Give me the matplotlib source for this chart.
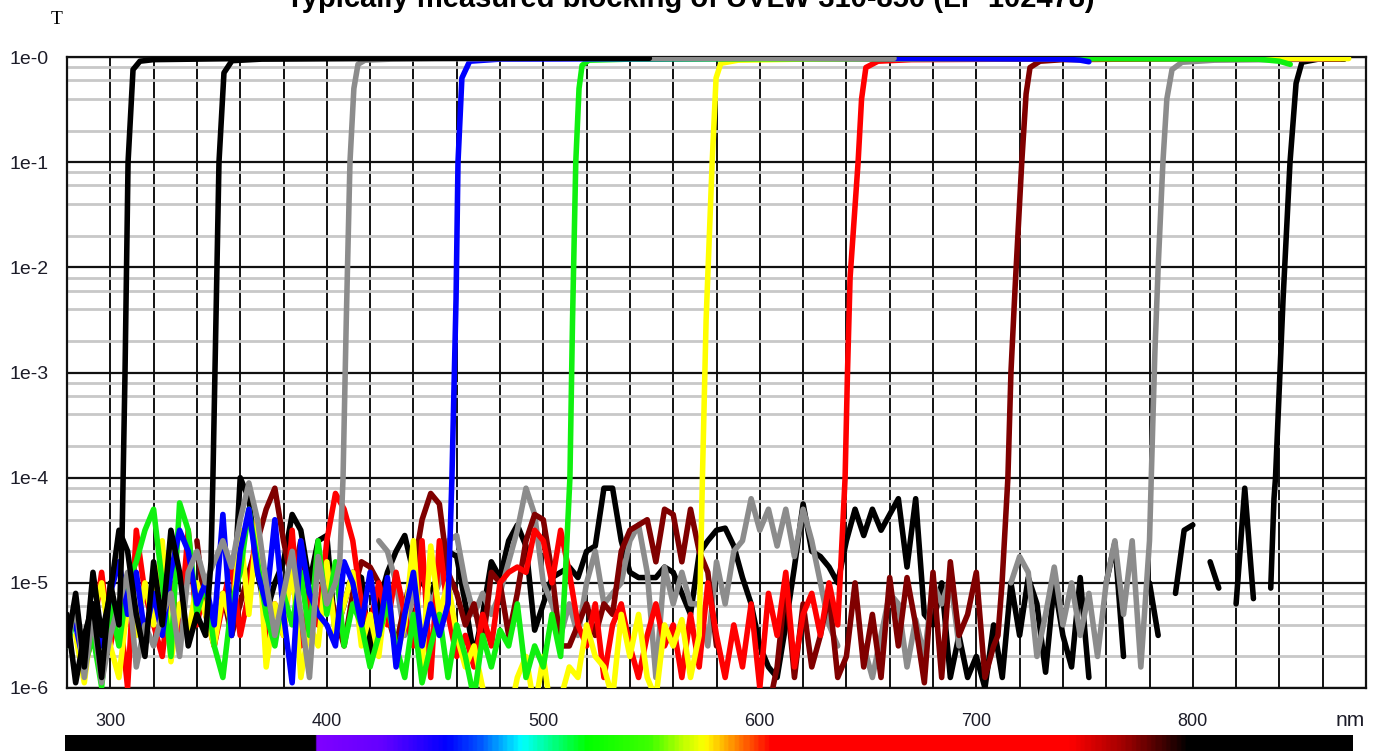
import numpy as np
import matplotlib.pyplot as plt
from matplotlib.colors import LinearSegmentedColormap

plt.rcParams['font.family'] = ['Liberation Sans', 'DejaVu Sans']

title = "Typically measured blocking of UVLW 310-850 (LP 102478)"

# noise floor sampled every 4 nm (log10 T), edge + plateau points after that
step = 4

blk1_start = 280
blk1_noise = [-5.3, -5.95, -5.5, -5.2, -5.9, -5.0, -5.4]
blk1_edge_wl = [305.4, 306.8, 308.2, 310.5, 313.7, 320, 360, 420, 466]
blk1_edge_lg = [-4.6, -3.0, -1.0, -0.12, -0.04, -0.025, -0.015, -0.01, -0.012]

blk2_start = 280
blk2_noise = [-5.6, -5.1, -5.8, -4.9, -5.5, -5.1, -4.5, -4.7, -5.3, -5.7, -4.8, -5.4,
              -4.5, -4.9, -5.6, -5.3, -5.5]
blk2_edge_wl = [346.5, 347.4, 348.8, 350.2, 352.5, 356.2, 370, 450, 549]
blk2_edge_lg = [-4.8, -4.0, -2.5, -1.0, -0.15, -0.035, -0.02, -0.012, -0.012]

gry1_start = 280
gry1_noise = [-5.6, -5.2, -5.9, -5.3, -5.95, -5.5, -5.2, -4.9, -5.8, -5.4, -5.6, -5.3,
              -5.1, -5.7, -4.9, -4.7, -5.0, -4.8, -4.6, -4.85, -4.4, -4.05, -4.4, -5.0,
              -5.5, -5.1, -4.7, -5.3, -5.9, -4.75, -5.2, -5.0]
gry1_edge_wl = [406, 407.5, 409, 410.7, 412.5, 414.4, 417.6, 430, 500, 662]
gry1_edge_lg = [-4.8, -4.0, -2.5, -1.0, -0.3, -0.07, -0.03, -0.02, -0.012, -0.012]

blue_start = 284
blue_noise = [-5.4, -5.8, -5.2, -5.6, -5.1, -4.8, -5.3, -4.9, -5.5, -5.1,
              -5.5, -4.9, -4.5, -4.7, -5.2, -5.0, -5.4, -4.35, -5.5, -4.7,
              -4.3, -4.9, -5.2, -4.4, -5.3, -5.95, -4.6, -5.1, -5.3, -5.4,
              -5.6, -4.8, -5.0, -5.4, -4.9, -5.5, -4.95, -5.8, -5.3, -4.9,
              -5.6, -5.2, -5.5, -5.2]
blue_edge_wl = [457.8, 459.7, 460.6, 462.4, 466, 480, 600, 740, 748, 752]
blue_edge_lg = [-4.0, -2.3, -1.0, -0.2, -0.04, -0.02, -0.012, -0.02, -0.03, -0.045]

grn_start = 280
grn_noise = [-5.6, -5.3, -5.8, -5.5, -5.99, -5.2, -5.6, -5.0, -4.8, -4.5,
             -4.3, -5.0, -5.7, -4.24, -4.5, -5.3, -5.0, -5.6, -5.9, -5.2,
             -4.9, -4.3, -4.8, -5.3, -5.6, -5.1, -5.4, -4.9, -5.5, -4.6,
             -5.3, -4.8, -5.6, -5.2, -5.4, -5.8, -5.5, -5.2, -5.6, -5.9,
             -5.3, -5.95, -5.6, -5.3, -5.9, -5.4, -5.7, -6.1, -5.5, -5.8,
             -5.45, -5.6, -5.2, -5.9, -5.6, -5.8, -5.3, -5.7]
grn_edge_wl = [510, 512.3, 513.5, 515, 516.5, 517.9, 521, 540, 700, 830, 840, 845]
grn_edge_lg = [-5.0, -4.0, -2.5, -1.0, -0.3, -0.08, -0.03, -0.02, -0.012, -0.02, -0.04, -0.07]

yel_start = 284
yel_noise = [-5.5, -5.95, -5.3, -5.0, -5.6, -5.9, -5.2, -5.5, -5.0, -5.4,
             -4.6, -5.75, -5.2, -5.5, -5.0, -5.3, -5.6, -5.1, -5.4, -4.5,
             -5.3, -4.4, -5.8, -5.2, -5.5, -4.8, -5.9, -5.4, -5.6, -4.8,
             -5.5, -5.2, -4.9, -5.6, -5.3, -5.7, -5.0, -5.7, -5.4, -4.6,
             -5.8, -4.65, -5.3, -5.0, -5.5, -5.8, -5.6, -6.0, np.nan, np.nan,
             -6.3, -5.9, -5.7, -6.2, -5.7, -6.3, -6.1, -5.8, -5.9, -5.4,
             -5.7, -5.8, -6.1, -5.3, -5.7, -5.3, -5.9, -6.1, -5.4, -5.6,
             -5.35, -5.9, -5.5]
yel_edge_wl = [573.5, 575.2, 578, 579.8, 582, 590, 620, 800, 872]
yel_edge_lg = [-4.0, -2.5, -1.0, -0.2, -0.06, -0.03, -0.02, -0.012, -0.015]

red_start = 280
red_noise = [-5.5, -5.3, -5.8, -5.5, -4.9, -5.6, -5.2, -6.0, -4.5, -5.1,
             -5.4, -5.7, -5.0, -5.5, -4.5, -5.4, -5.0, -5.6, -5.2, -4.8,
             -5.5, -5.1, -4.4, -5.6, -5.2, -5.5, -4.5, -5.6, -5.1, -5.4,
             -4.6, -4.15, -4.3, -4.6, -5.2, -5.4, -5.0, -5.4, -4.9, -5.3,
             -5.6, -4.6, -5.9, -4.6, -5.3, -5.7, -5.5, -5.8, -5.3, -5.6,
             -5.0, -4.9, -4.85, -4.9, -4.5, -4.6, -5.0, -4.5, -4.9, -5.4,
             -5.6, -5.2, -5.9, -5.4, -5.2, -5.6, -5.9, -5.5, -5.2, -5.6,
             -5.4, -5.9, -5.3, -5.8, -5.0, -5.5, -5.9, -5.4, -5.8, -5.2,
             -6.0, -5.1, -5.5, -4.9, -5.8, -5.3, -5.1, -5.5, -5.0, -5.4]
red_edge_wl = [637.5, 639.4, 640.5, 641.7, 645.4, 647, 649, 654.6, 670, 800, 868]
red_edge_lg = [-4.8, -4.0, -3.0, -2.1, -1.0, -0.4, -0.1, -0.04, -0.025, -0.012, -0.015]

dred_start = 340
dred_noise = [-4.6, -5.3, -5.6, -5.1, -5.5, -5.2, -4.9, -4.6, -4.3, -4.1,
              -4.6, -5.0, -4.6, -5.2, -5.4, -5.0, -5.3, -5.6, -5.1, -4.8,
              -4.85, -5.0, -5.3, -5.6, -5.2, -4.9, -4.4, -4.15, -4.25, -4.9,
              -5.1, -5.4, -5.2, -5.6, -4.9, -5.0, -5.5, -5.1, -4.6, -4.35,
              -4.4, -4.9, -5.6, -5.6, -5.4, -5.2, -5.5, -5.2, -5.3, -4.7,
              -4.5, -4.45, -4.4, -4.8, -4.3, -4.35, -4.8, -4.3, -4.7, -4.9,
              -5.6, np.nan, np.nan, np.nan, np.nan, np.nan, -6.2, -5.8, -5.0, -5.9,
              -5.2, -5.8, -5.5, -5.1, -5.9, -5.7, -5.0, -5.8, -5.3, -5.9,
              -4.95, -5.6, -4.95, -5.4, -5.95, -4.9, -5.9, -4.8, -5.5, -5.3,
              -4.9, -5.9, -5.6]
dred_edge_wl = [710, 711.9, 714.6, 716, 717.9, 721, 723, 724.8, 729.4, 740, 800, 870]
dred_edge_lg = [-5.5, -5.0, -4.0, -3.0, -2.2, -1.0, -0.35, -0.1, -0.04, -0.025, -0.015, -0.015]

gry2_start = 424
gry2_noise = [-4.6, -4.7, -5.0, -5.5, -5.1, -4.9, -5.2, -5.0, -4.6, -4.55,
              -5.0, -5.3, -5.1, -5.3, -5.1, -4.8, -4.5, -4.1, -4.35, -5.0,
              -5.2, -5.5, -5.2, -5.5, -5.0, -4.7, -5.2, -5.1, -5.0, -4.6,
              -4.45, -4.9, -5.9, -4.85, -5.2, -4.9, -5.2, -5.2, -5.6, -4.8,
              -5.2, -4.7, -4.6, -4.2, -4.5, -4.3, -4.65, -4.3, -4.75, -4.3,
              -4.6, -5.0, -5.4, -5.6, np.nan, np.nan, -5.6, -5.9, -5.5, -5.1,
              -5.2, -5.8, -5.35, -5.7, -5.0, -5.2, -4.95, -5.6, np.nan, np.nan,
              np.nan, np.nan, np.nan, -5.0, -4.75, -4.9, -5.7, -5.3, -4.85, -5.4,
              -5.0, -5.5, -5.1, -5.7, -5.0, -4.6, -5.3, -4.6, -5.8, -4.6]
gry2_edge_wl = [781.5, 782.5, 784, 786.2, 788, 790.4, 795, 810, 860]
gry2_edge_lg = [-3.5, -2.8, -2.0, -1.0, -0.4, -0.12, -0.05, -0.03, -0.02]

blk3_start = 356
blk3_noise = [-5.5, -4.0, -4.2, -4.9, -5.3, -5.0, -4.8, -4.35, -4.5, -5.0,
              -4.6, -4.55, -5.5, -5.2, -4.9, -4.95, -5.7, -5.2, -4.9, -4.7,
              -4.55, -4.9, -5.0, -5.1, -4.9, -4.7, -4.75, -5.2, -5.7, -5.3,
              -4.8, -4.95, -4.6, -4.45, -4.65, -5.45, -5.2, -4.95, -4.9, -4.85,
              -4.95, -4.7, -4.65, -4.1, -4.1, -4.6, -4.9, -4.95, -4.95, -4.95,
              -4.85, -4.9, -5.1, -5.3, -4.72, -4.6, -4.5, -4.48, -4.65, -4.95,
              -5.2, -5.6, -5.8, -5.9, -5.4, -4.85, -4.25, -4.7, -4.75, -4.85,
              -5.0, -4.6, -4.3, -4.55, -4.3, -4.5, -4.35, -4.2, -4.85, -4.2,
              -5.3, -5.4, -5.0, -5.9, -5.5, -5.9, -5.7, -6.0, -5.4, -5.9,
              -5.0, -5.5, -4.95, -5.2, -5.85, -5.0, -5.5, -5.8, -4.95, -5.9,
              np.nan, -5.0, -4.62, -5.7, np.nan, np.nan, -5.0, -5.5, np.nan, -5.1,
              -4.5, -4.45, np.nan, -4.8, -5.05, np.nan, -5.2, -4.1, -5.15, np.nan,
              -5.05]
blk3_edge_wl = [837.5, 838.2, 841.7, 844.9, 847.7, 850.4, 858, 870]
blk3_edge_lg = [-4.2, -4.0, -2.3, -1.0, -0.25, -0.05, -0.02, -0.02]

# spectrum strip under the axis
spec_nm = [279, 394, 395, 425, 455, 470, 490, 505, 520, 550, 565, 575, 590, 606, 745, 770, 800, 875]
spec_col = ['#000000', '#000000', '#7f00ff', '#6400ff', '#0000ff', '#0050ff', '#00ffff', '#00ff80',
            '#00ff00', '#40ff00', '#c0ff00', '#ffff00', '#ff8000', '#ff0000', '#ff0000', '#a00000',
            '#000000', '#000000']

curves = [
    ('#000000', blk3_start, blk3_noise, blk3_edge_wl, blk3_edge_lg),
    ('#8c8c8c', gry2_start, gry2_noise, gry2_edge_wl, gry2_edge_lg),
    ('#800000', dred_start, dred_noise, dred_edge_wl, dred_edge_lg),
    ('#ff0000', red_start, red_noise, red_edge_wl, red_edge_lg),
    ('#ffff00', yel_start, yel_noise, yel_edge_wl, yel_edge_lg),
    ('#10f010', grn_start, grn_noise, grn_edge_wl, grn_edge_lg),
    ('#0000ff', blue_start, blue_noise, blue_edge_wl, blue_edge_lg),
    ('#8c8c8c', gry1_start, gry1_noise, gry1_edge_wl, gry1_edge_lg),
    ('#000000', blk2_start, blk2_noise, blk2_edge_wl, blk2_edge_lg),
    ('#000000', blk1_start, blk1_noise, blk1_edge_wl, blk1_edge_lg),
]

fig = plt.figure(figsize=(13.81, 7.51), dpi=100)
ax = fig.add_axes([67 / 1381, 1 - 688 / 751, (1366 - 67) / 1381, (688 - 57) / 751])

for col, start, noise, ewl, elg in curves:
    wl = np.concatenate([start + step * np.arange(len(noise)), ewl])
    lg = np.concatenate([np.array(noise, dtype=float), elg])
    ax.plot(wl, 10.0 ** lg, color=col, lw=4, solid_capstyle='round',
            solid_joinstyle='round', zorder=3)

ax.set_yscale('log')
ax.set_xlim(280, 880)
ax.set_ylim(1e-6, 1)

xt = np.arange(280, 881, 20)
ax.set_xticks(xt)
ax.set_xticklabels([str(v) if v % 100 == 0 and 300 <= v <= 800 else '' for v in xt])
yt = [1e-6, 1e-5, 1e-4, 1e-3, 1e-2, 1e-1, 1]
ax.set_yticks(yt)
ax.set_yticklabels(['1e-6', '1e-5', '1e-4', '1e-3', '1e-2', '1e-1', '1e-0'])
ax.set_yticks([m * 10.0 ** e for e in range(-6, 0) for m in (2, 4, 6, 8)], minor=True)
ax.tick_params(axis='both', which='both', length=0, colors='#1c1c28')
ax.tick_params(axis='x', labelsize=13, pad=18)
ax.tick_params(axis='y', labelsize=14, pad=13)

ax.grid(which='minor', axis='y', color='#c8c8c8', lw=2.0, zorder=1)
ax.grid(which='major', axis='y', color='#111111', lw=1.6, zorder=2)
ax.grid(which='major', axis='x', color='#111111', lw=1.4, zorder=2)
ax.set_axisbelow(True)
for s in ax.spines.values():
    s.set_color('#111111')
    s.set_linewidth(1.6)

fig.text(0.4997, 1 - 7 / 751, title, ha='center', va='baseline',
         fontsize=21, fontweight='bold')
fig.text(57 / 1381, 1 - 20 / 751, 'T', ha='center', va='center',
         family='Liberation Serif', fontsize=14)
fig.text(1350 / 1381, 1 - 720 / 751, 'nm', ha='center', va='center',
         fontsize=15, color='#1c1c28')

# spectrum strip
pos = [(v - spec_nm[0]) / (spec_nm[-1] - spec_nm[0]) for v in spec_nm]
spec_cmap = LinearSegmentedColormap.from_list('spec', list(zip(pos, spec_col)))
ax2 = fig.add_axes([65 / 1381, -0.01, (1353 - 65) / 1381, 16 / 751 + 0.01])
ax2.imshow(np.linspace(0, 1, 600).reshape(1, -1), aspect='auto', cmap=spec_cmap,
           extent=[spec_nm[0], spec_nm[-1], 0, 1])
ax2.set_axis_off()

fig.savefig('out.png', dpi=100)
